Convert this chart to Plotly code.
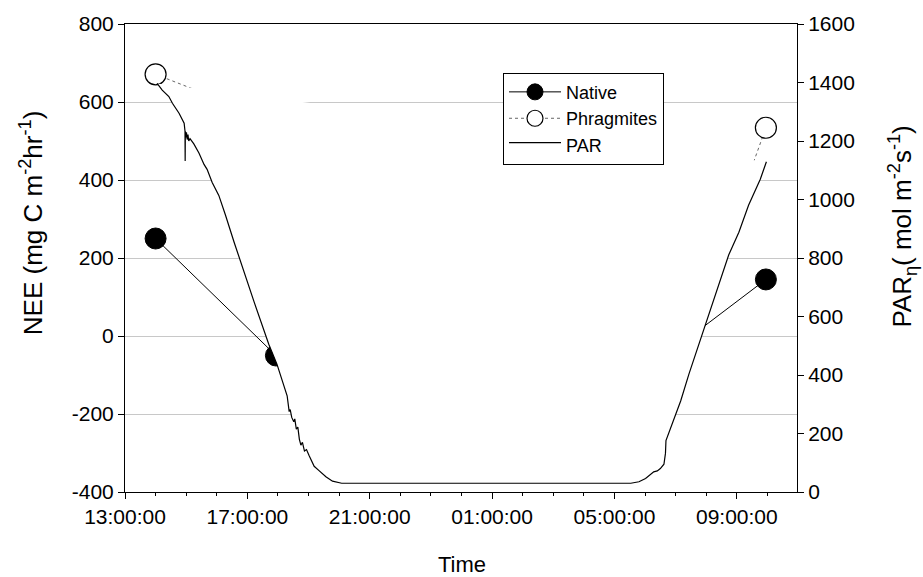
import plotly.graph_objects as go

# ---------------- data ----------------
sample_times = ["2008-07-15 14:00", "2008-07-15 17:56", "2008-07-15 22:00",
                "2008-07-16 02:00", "2008-07-16 06:00", "2008-07-16 09:57"]
native_nee = [250, -50, -100, -100, -90, 145]
phrag_nee = [671, 550, -300, -320, -330, 534]

par_times = [
    "2008-07-15 14:03", "2008-07-15 14:13", "2008-07-15 14:26", "2008-07-15 14:33",
    "2008-07-15 14:46", "2008-07-15 14:56", "2008-07-15 14:57:40", "2008-07-15 14:58:00",
    "2008-07-15 14:58:20", "2008-07-15 14:59:30", "2008-07-15 15:00:30", "2008-07-15 15:02:00",
    "2008-07-15 15:03:30", "2008-07-15 15:05:00", "2008-07-15 15:07:30", "2008-07-15 15:15",
    "2008-07-15 15:25", "2008-07-15 15:35", "2008-07-15 15:41", "2008-07-15 15:51",
    "2008-07-15 16:04", "2008-07-15 16:17", "2008-07-15 16:34", "2008-07-15 17:13",
    "2008-07-15 17:42", "2008-07-15 17:58", "2008-07-15 18:18", "2008-07-15 18:22",
    "2008-07-15 18:24", "2008-07-15 18:27", "2008-07-15 18:31", "2008-07-15 18:33",
    "2008-07-15 18:36", "2008-07-15 18:39", "2008-07-15 18:42", "2008-07-15 18:45",
    "2008-07-15 18:48", "2008-07-15 18:52", "2008-07-15 18:56", "2008-07-15 19:01",
    "2008-07-15 19:06", "2008-07-15 19:11", "2008-07-15 19:20", "2008-07-15 19:34",
    "2008-07-15 19:47", "2008-07-15 20:05", "2008-07-16 05:32", "2008-07-16 05:48",
    "2008-07-16 06:01", "2008-07-16 06:17", "2008-07-16 06:24", "2008-07-16 06:30",
    "2008-07-16 06:37", "2008-07-16 06:40", "2008-07-16 06:41", "2008-07-16 07:10",
    "2008-07-16 07:26", "2008-07-16 07:59", "2008-07-16 08:44", "2008-07-16 09:04",
    "2008-07-16 09:23", "2008-07-16 09:46", "2008-07-16 09:58",
]
par_values = [
    1397, 1374, 1352, 1329,
    1295, 1261, 1234, 1132,
    1232, 1212, 1230, 1205,
    1222, 1200, 1208, 1190,
    1159, 1120, 1103, 1058,
    1014, 947, 854, 651,
    505, 437, 329, 275,
    282, 255, 240, 250,
    215, 222, 180, 160,
    170, 140, 145, 125,
    108, 88, 74, 52,
    37, 30, 30, 35,
    46, 69, 72, 80,
    95, 132, 176, 312,
    403, 572, 810, 888,
    980, 1069, 1129,
]

x_range = ["2008-07-15 13:00", "2008-07-16 10:58"]
nee_range = [-400, 800]
nee_ticks = [-400, -200, 0, 200, 400, 600, 800]
nee_ticktext = ["-400", "-200", "0", "200", "400", "600", "800"]
par_range = [0, 1600]

FONT = "Liberation Sans, Arial, sans-serif"
TICK = 21

fig = go.Figure()

fig.add_trace(go.Scatter(
    x=sample_times, y=native_nee, name="Native", mode="lines+markers",
    line=dict(color="black", width=1),
    marker=dict(size=21, color="black", line=dict(color="black", width=1)),
    yaxis="y", cliponaxis=True,
))
fig.add_trace(go.Scatter(
    x=sample_times, y=phrag_nee, name="Phragmites", mode="lines+markers",
    line=dict(color="#666666", width=1, dash="dot"),
    marker=dict(size=21, color="white", line=dict(color="black", width=1.2)),
    yaxis="y", cliponaxis=True,
))
fig.add_trace(go.Scatter(
    x=par_times, y=par_values, name="PAR", mode="lines",
    line=dict(color="black", width=1.2),
    fill="toself", fillcolor="white",
    yaxis="y2",
))

fig.update_layout(
    width=923, height=577,
    margin=dict(l=125, r=126, t=20, b=85),
    paper_bgcolor="white", plot_bgcolor="white",
    font=dict(family=FONT, size=TICK, color="black"),
    showlegend=True,
    legend=dict(
        x=0.5625, y=0.896, xanchor="left", yanchor="top",
        bgcolor="white", bordercolor="black", borderwidth=1,
        font=dict(family=FONT, size=18, color="black"),
        tracegroupgap=0, itemsizing="trace", itemwidth=52,
    ),
    xaxis=dict(
        type="date", range=x_range,
        tickformat="%H:%M:%S", tick0="2008-07-15 13:00", dtick=4 * 3600 * 1000,
        ticks="outside", ticklen=6, tickcolor="black", tickwidth=1,
        showgrid=False, zeroline=False,
        showline=True, linecolor="black", linewidth=1, mirror=True,
        minor=dict(dtick=3600 * 1000, ticks="outside", ticklen=3,
                   tickcolor="black", showgrid=False),
        tickfont=dict(family=FONT, size=TICK, color="black"),
    ),
    yaxis=dict(
        range=nee_range, tickmode="array", tickvals=nee_ticks, ticktext=nee_ticktext,
        ticks="outside", ticklen=6, tickcolor="black",
        showgrid=True, gridcolor="#c8c8c8", gridwidth=1, zeroline=False,
        showline=True, linecolor="black", linewidth=1, mirror=True,
        tickfont=dict(family=FONT, size=TICK, color="black"),
    ),
    yaxis2=dict(
        range=par_range, dtick=200, tick0=0, overlaying="y", side="right",
        ticks="outside", ticklen=6, tickcolor="black",
        showgrid=False, zeroline=False,
        showline=True, linecolor="black", linewidth=1,
        tickfont=dict(family=FONT, size=TICK, color="black"),
    ),
    annotations=[
        dict(text="NEE (mg C m<sup>-2</sup>hr<sup>-1</sup>)", xref="paper", yref="paper",
             x=-0.138, y=0.575, xanchor="center", yanchor="middle", textangle=-90,
             showarrow=False, font=dict(family=FONT, size=26, color="black")),
        dict(text="PAR<sub>η</sub>( mol m<sup>-2</sup>s<sup>-1</sup>)", xref="paper", yref="paper",
             x=1.157, y=0.566, xanchor="center", yanchor="middle", textangle=-90,
             showarrow=False, font=dict(family=FONT, size=26, color="black")),
        dict(text="Time", xref="paper", yref="paper",
             x=0.5015, y=-0.155, xanchor="center", yanchor="middle",
             showarrow=False, font=dict(family=FONT, size=22, color="black")),
    ],
)

fig.write_html("out.html")
